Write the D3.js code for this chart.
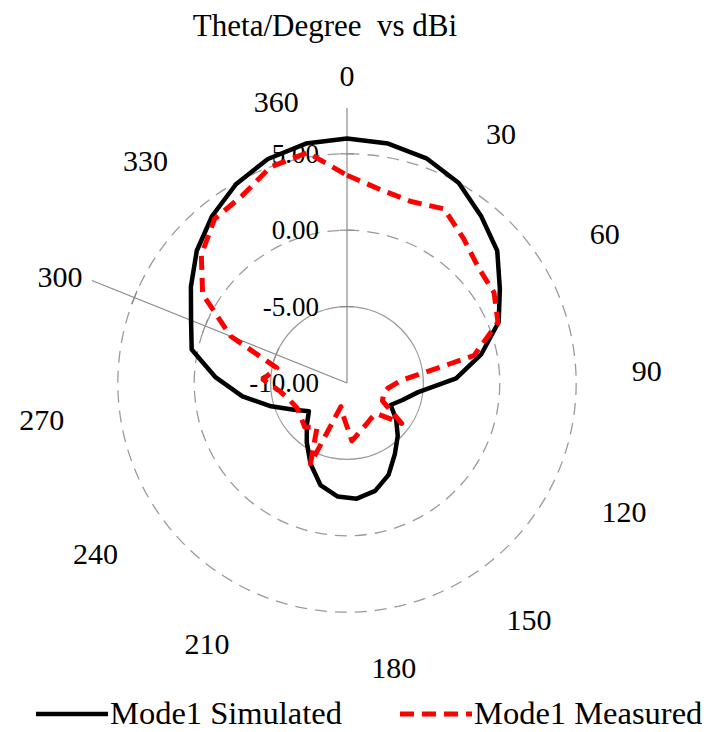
<!DOCTYPE html>
<html>
<head>
<meta charset="utf-8">
<script src="https://cdn.jsdelivr.net/npm/d3@7"></script>
<style>
  html, body { margin: 0; padding: 0; background: #fff; }
  svg { display: block; }
</style>
</head>
<body>
<svg id="chart" width="706" height="732" font-family="'Liberation Serif', 'DejaVu Serif', 'Times New Roman', Times, serif"></svg>
<script>
// ---- data ----
const categories = [0,10,20,30,40,50,60,70,80,90,100,110,120,130,140,150,160,170,180,
                    190,200,210,220,230,240,250,260,270,280,290,300,310,320,330,340,350,360];
const simulated = [6.0,5.9,5.6,5.0,4.0,3.1,1.75,0.7,-1.0,-2.85,-5.3,-6.2,-6.8,-6.0,-5.2,-4.4,-3.4,-2.7,-2.4,
                   -2.55,-3.1,-4.2,-5.3,-6.2,-6.9,-6.1,-4.8,-3.1,-1.4,0.4,1.0,2.0,3.1,4.05,4.9,5.55,5.9];
const measured  = [3.6,2.85,2.6,3.05,2.15,1.45,1.3,0.65,-1.5,-6.5,-7.3,-7.5,-7.4,-5.55,-7.25,-7.2,-7.0,-6.7,-6.2,
                   -7.7,-8.4,-4.2,-6.5,-6.0,-6.25,-6.35,-6.1,-5.6,-4.5,-5.3,-1.8,1.1,2.7,3.8,4.05,5.0,5.3];
const seriesNames = ["Mode1 Simulated", "Mode1 Measured"];
const angleLabels = [0,30,60,90,120,150,180,210,240,270,300,330,360];
const gridValues = [-10,-5,0,5];
const valueMin = -10, valueMax = 8;
const spokeCategory = 300;
const titleText = "Theta/Degree  vs dBi";

// ---- layout ----
const svg = d3.select("#chart");
const cx = 347, cy = 383, R = 275;
const rScale = d3.scaleLinear().domain([valueMin, valueMax]).range([0, R]);
const aScale = d3.scaleLinear().domain([0, categories.length * 10]).range([0, 2 * Math.PI]);
const g = svg.append("g").attr("transform", `translate(${cx},${cy})`);
const pt = (ang, r) => [r * Math.sin(ang), -r * Math.cos(ang)];
const fmt = v => v.toFixed(2);

// title
svg.append("text").attr("x", 325).attr("y", 36).attr("text-anchor", "middle")
  .style("font-size", "31px").style("white-space", "pre").text(titleText);

// grid rings
gridValues.filter(v => v > valueMin).forEach((v, i) => {
  g.append("circle").attr("r", rScale(v)).attr("fill", "none")
    .attr("stroke", "#9a9a9a").attr("stroke-width", 1.3)
    .attr("stroke-dasharray", i === 0 ? null : "12,8");
});

// axes: vertical value axis and spoke
function drawAxis(ang) {
  const [x2, y2] = pt(ang, R);
  g.append("line").attr("x1", 0).attr("y1", 0).attr("x2", x2).attr("y2", y2)
    .attr("stroke", "#8a8a8a").attr("stroke-width", 1.2);
  gridValues.filter(v => v > valueMin).forEach(v => {
    const [px, py] = pt(ang, rScale(v));
    const nx = Math.cos(ang) * 7, ny = Math.sin(ang) * 7;
    g.append("line").attr("x1", px - nx).attr("y1", py - ny).attr("x2", px + nx).attr("y2", py + ny)
      .attr("stroke", "#8a8a8a").attr("stroke-width", 1.2);
  });
}
drawAxis(0);
drawAxis(aScale(spokeCategory));

// value labels
gridValues.forEach(v => {
  g.append("text").attr("x", -28).attr("y", -rScale(v)).attr("text-anchor", "end")
    .attr("dominant-baseline", "central").style("font-size", "27px")
    .text(fmt(v));
});

// category labels
angleLabels.forEach(c => {
  const ang = aScale(c);
  const s = Math.sin(ang), co = Math.cos(ang);
  const t = g.append("text").attr("text-anchor", "middle").attr("dominant-baseline", "central")
    .style("font-size", "30px").text(c);
  const hw = t.node().getComputedTextLength() / 2;
  const sx = Math.abs(s) < 1e-6 ? 0 : Math.sign(s);
  const x = 285 * s + sx * hw;
  const y = -286 * co - (sx === 0 ? 22 : 0);
  t.attr("x", x).attr("y", y);
});

// series
const line = d3.lineRadial()
  .angle((d, i) => aScale(categories[i]))
  .radius(d => rScale(d))
  .curve(d3.curveLinearClosed);

g.append("path").datum(simulated).attr("d", line).attr("fill", "none")
  .attr("stroke", "#000").attr("stroke-width", 4.5).attr("stroke-linejoin", "round");
g.append("path").datum(measured).attr("d", line).attr("fill", "none")
  .attr("stroke", "#ff0000").attr("stroke-width", 5).attr("stroke-dasharray", "14,8")
  .attr("stroke-linejoin", "round");

// legend
const legend = svg.append("g");
const legendItems = [
  {name: seriesNames[0], x: 36, color: "#000", dash: null, w: 4.5},
  {name: seriesNames[1], x: 400, color: "#ff0000", dash: "14,8", w: 5}
];
legendItems.forEach(it => {
  legend.append("line").attr("x1", it.x).attr("x2", it.x + 72).attr("y1", 714).attr("y2", 714)
    .attr("stroke", it.color).attr("stroke-width", it.w).attr("stroke-dasharray", it.dash);
  legend.append("text").attr("x", it.x + 74).attr("y", 724).style("font-size", "32.5px").text(it.name);
});
</script>
</body>
</html>
